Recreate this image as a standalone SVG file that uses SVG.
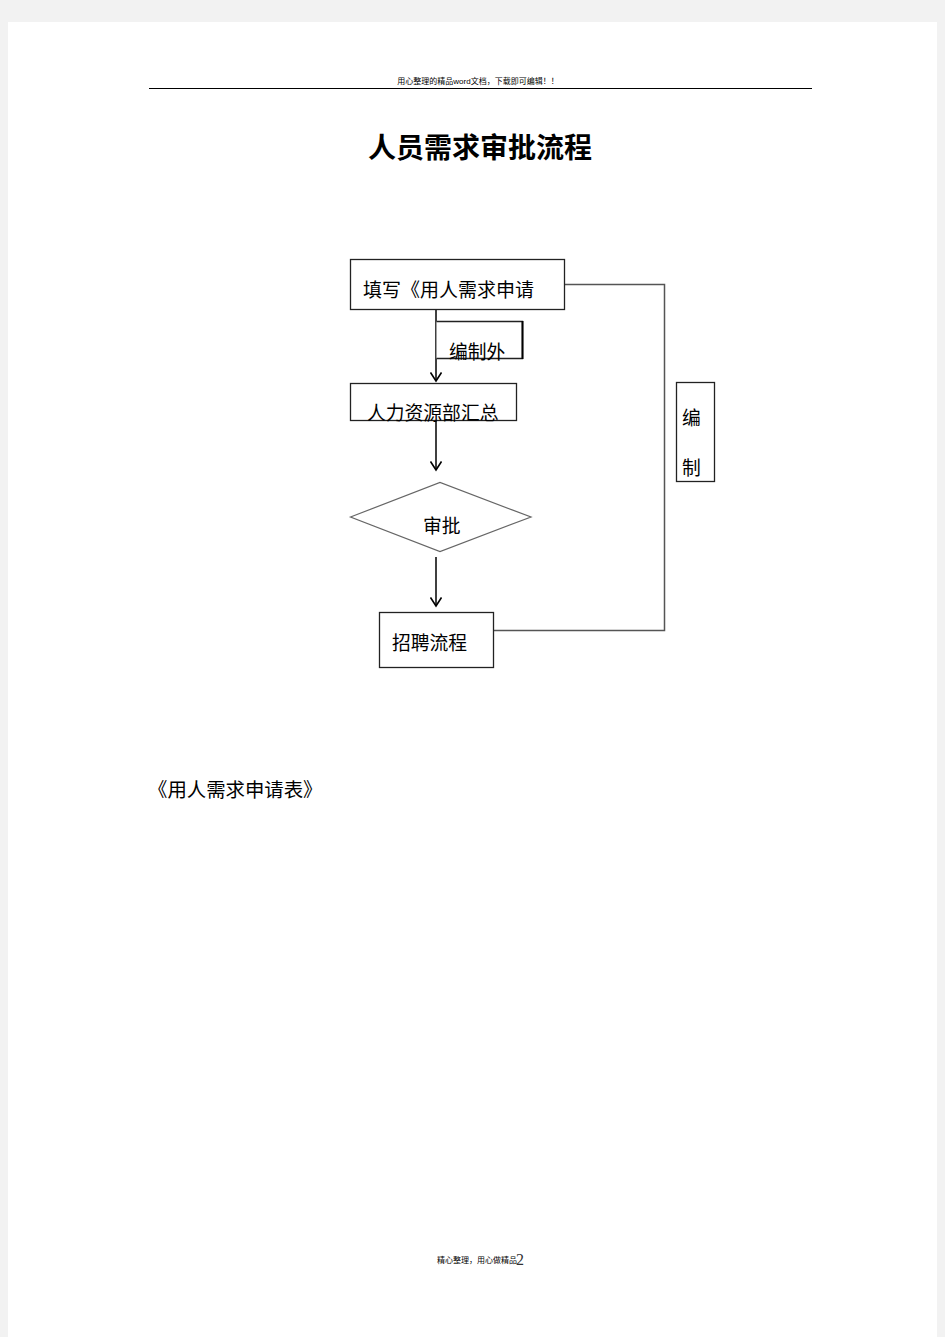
<svg xmlns="http://www.w3.org/2000/svg" width="945" height="1337" viewBox="0 0 945 1337">
<style>
.t{font-family:"Liberation Sans","Noto Sans CJK SC",sans-serif;fill:#000}
.n{font-size:18.8px}
.box{fill:#fff;stroke:#222;stroke-width:1.3}
.con{fill:none;stroke:#000;stroke-width:1.5}
.gr{fill:none;stroke:#555;stroke-width:1.5}
</style>
<defs>
<marker id="ah" markerWidth="12" markerHeight="12" refX="10" refY="6" orient="auto" markerUnits="userSpaceOnUse" viewBox="0 0 12 12">
<path d="M1.5,0.5 L10,6 L1.5,11.5" fill="none" stroke="#000" stroke-width="1.6"/>
</marker>
</defs>
<rect width="945" height="1337" fill="#f2f2f2"/>
<rect x="8" y="22" width="929" height="1315" fill="#fff"/>
<text class="t" x="478" y="84" font-size="8" text-anchor="middle" fill="#444">用心整理的精品word文档，下载即可编辑！！</text>
<line x1="149" y1="88.5" x2="812" y2="88.5" stroke="#000" stroke-width="1"/>
<text class="t" x="480" y="158" font-size="28" font-weight="bold" text-anchor="middle">人员需求审批流程</text>
<g id="connectors">
<line class="con" x1="436" y1="309" x2="436" y2="381" marker-end="url(#ah)"/>
<line class="con" x1="436" y1="420" x2="436" y2="470" marker-end="url(#ah)"/>
<line class="con" x1="436" y1="557" x2="436" y2="606" marker-end="url(#ah)"/>
<polyline class="gr" points="564,284.5 664.5,284.5 664.5,630.5 493,630.5"/>
</g>
<g id="node-fill">
<rect class="box" x="350.5" y="259.5" width="214" height="50"/>
<text class="t" x="363" y="297" font-size="19">填写《用人需求申请</text>
</g>
<g id="node-bianzhiwai">
<path d="M436.5,321.5 H522.5 V358.5 H436.5" fill="#fff" stroke="#222" stroke-width="1.3"/>
<line x1="522.5" y1="321" x2="522.5" y2="359" stroke="#000" stroke-width="2"/>
<text class="t n" x="449" y="359">编制外</text>
</g>
<g id="node-hr">
<rect class="box" x="350.5" y="383.5" width="166" height="37"/>
<text class="t n" x="367" y="420">人力资源部汇总</text>
</g>
<g id="node-approve">
<polygon points="350.5,517 440,482.5 531,517 440,551.5" fill="#fff" stroke="#666" stroke-width="1.2"/>
<text class="t n" x="423" y="533">审批</text>
</g>
<g id="node-recruit">
<rect class="box" x="379.5" y="612.5" width="114" height="55"/>
<text class="t n" x="392" y="650">招聘流程</text>
</g>
<g id="node-bianzhi">
<rect class="box" x="676.5" y="382.5" width="38" height="99"/>
<text class="t n" x="682" y="425">编</text>
<text class="t n" x="682" y="475">制</text>
</g>
<text class="t" x="148" y="797" font-size="19.4">《用人需求申请表》</text>
<text class="t" x="477" y="1263" font-size="8" text-anchor="middle" fill="#444">精心整理，用心做精品</text>
<text x="516" y="1265" font-family="Liberation Serif,serif" font-size="16" fill="#333">2</text>
</svg>
